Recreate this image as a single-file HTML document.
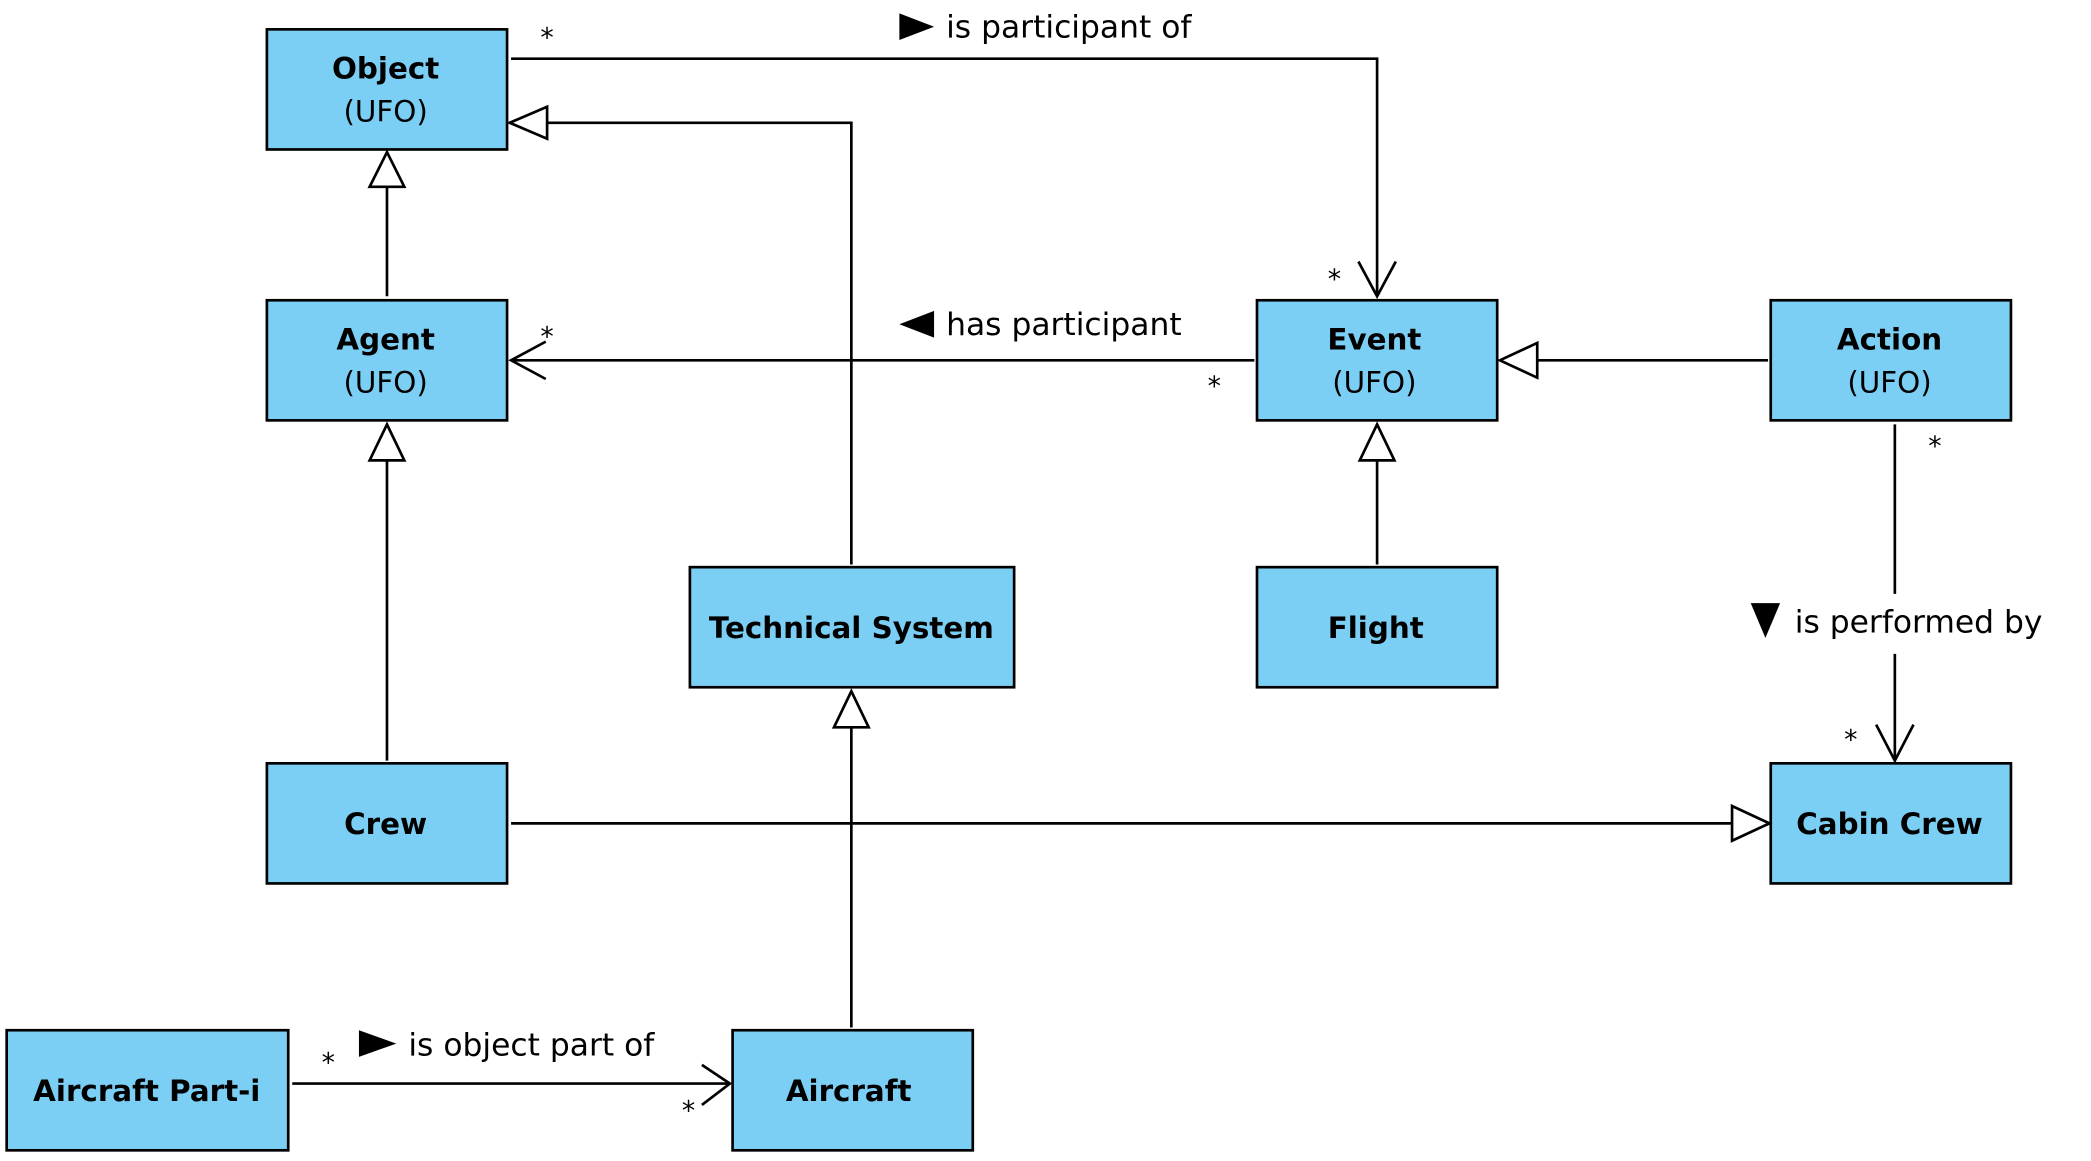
<!DOCTYPE html>
<html><head><meta charset="utf-8"><style>
html,body{margin:0;padding:0;background:#fff;}
svg{display:block;}
text{font-family:"DejaVu Sans","Liberation Sans",sans-serif;fill:#000;}
.n{font-weight:bold;font-size:22px;}
.u{font-size:22px;}
.l{font-size:23.5px;}
.s{font-size:20px;}
</style></head><body>
<svg width="2091" height="1161" viewBox="0 0 1567 870" preserveAspectRatio="none" xmlns="http://www.w3.org/2000/svg">
<g fill="#7ccff4" stroke="#000" stroke-width="2">
<rect x="200" y="22" width="180" height="90"/>
<rect x="200" y="225" width="180" height="90"/>
<rect x="942" y="225" width="180" height="90"/>
<rect x="1327" y="225" width="180" height="90"/>
<rect x="517" y="425" width="243" height="90"/>
<rect x="942" y="425" width="180" height="90"/>
<rect x="200" y="572" width="180" height="90"/>
<rect x="1327" y="572" width="180" height="90"/>
<rect x="5" y="772" width="211" height="90"/>
<rect x="549" y="772" width="180" height="90"/>
</g>
<g text-anchor="middle">
<text class="n" x="289" y="59">Object</text><text class="u" x="289" y="91">(UFO)</text>
<text class="n" x="289" y="262">Agent</text><text class="u" x="289" y="294">(UFO)</text>
<text class="n" x="1030" y="262">Event</text><text class="u" x="1030" y="294">(UFO)</text>
<text class="n" x="1416" y="262">Action</text><text class="u" x="1416" y="294">(UFO)</text>
<text class="n" x="638" y="478">Technical System</text>
<text class="n" x="1031" y="478">Flight</text>
<text class="n" x="289" y="625">Crew</text>
<text class="n" x="1416" y="625">Cabin Crew</text>
<text class="n" x="110" y="825">Aircraft Part-i</text>
<text class="n" x="636" y="825">Aircraft</text>
</g>
<g fill="none" stroke="#000" stroke-width="2">
<polyline points="383,44 1032,44 1032,222"/>
<polyline points="1018,196 1032,222 1046,196"/>
<polyline points="638,423 638,92 410,92"/>
<polygon points="382,92 410,80 410,104" fill="#fff"/>
<line x1="290" y1="222" x2="290" y2="140"/>
<polygon points="290,114 277,140 303,140" fill="#fff"/>
<line x1="940" y1="270" x2="383" y2="270"/>
<polyline points="409,256 383,270 409,284"/>
<line x1="1325" y1="270" x2="1152" y2="270"/>
<polygon points="1124,270 1152,257 1152,283" fill="#fff"/>
<line x1="1032" y1="423" x2="1032" y2="345"/>
<polygon points="1032,318 1019,345 1045,345" fill="#fff"/>
<line x1="290" y1="570" x2="290" y2="345"/>
<polygon points="290,318 277,345 303,345" fill="#fff"/>
<line x1="383" y1="617" x2="1298" y2="617"/>
<polygon points="1326,617 1298,604 1298,630" fill="#fff"/>
<line x1="1420" y1="318" x2="1420" y2="445"/>
<line x1="1420" y1="490" x2="1420" y2="570"/>
<polyline points="1406,543 1420,570 1434,543"/>
<line x1="638" y1="770" x2="638" y2="545"/>
<polygon points="638,518 625,545 651,545" fill="#fff"/>
<line x1="219" y1="812" x2="547" y2="812"/>
<polyline points="526,798 547,812 526,828"/>
</g>
<g class="s">
<text x="405" y="35">*</text><text x="995" y="216">*</text>
<text x="405" y="259">*</text><text x="905" y="296">*</text>
<text x="1445" y="341">*</text><text x="1382" y="561">*</text>
<text x="241" y="803">*</text><text x="511" y="839">*</text>
</g>
<g class="l">
<polygon points="674,10 700,20 674,30"/><text x="709" y="28">is participant of</text>
<polygon points="674,243 700,233 700,253"/><text x="709" y="251">has participant</text>
<polygon points="1312,452 1334,452 1323,478"/><text x="1345" y="474">is performed by</text>
<polygon points="269,772 297,782 269,792"/><text x="306" y="791">is object part of</text>
</g>
</svg>
</body></html>
